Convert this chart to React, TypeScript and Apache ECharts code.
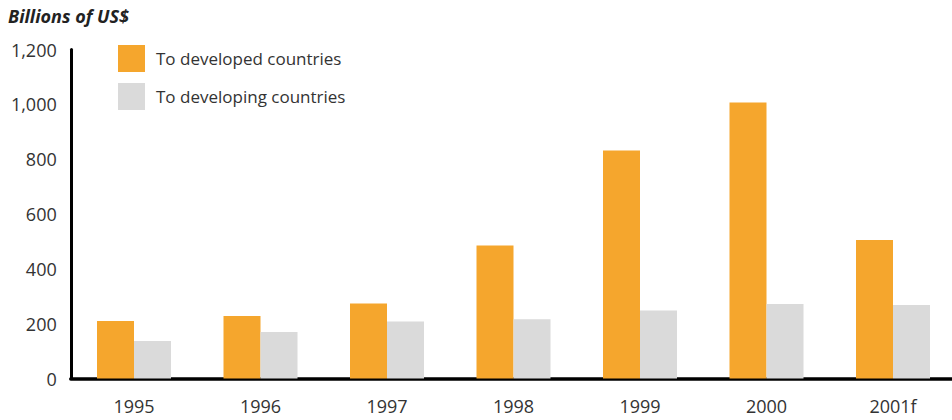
import React, { useEffect, useRef } from "react";
import * as echarts from "echarts";

const categories = ["1995", "1996", "1997", "1998", "1999", "2000", "2001f"];
const developed = [210, 228, 274, 485, 832, 1007, 505];
const developing = [137, 170, 208, 216, 248, 272, 268];
const yTicks = [0, 200, 400, 600, 800, 1000, 1200];

const FONT = "'Open Sans', 'Noto Sans', sans-serif";

export default function App() {
  const ref = useRef<HTMLDivElement>(null);
  useEffect(() => {
    if (!ref.current) return;
    const chart = echarts.init(ref.current, undefined, { renderer: "svg" });
    chart.setOption({
      animation: false,
      backgroundColor: "#ffffff",
      textStyle: { fontFamily: FONT },
      title: {
        text: "Billions of US$",
        left: 3,
        top: 2,
        textStyle: { fontSize: 18, fontWeight: "bold", fontStyle: "italic", color: "#222", fontFamily: FONT },
      },
      legend: {
        orient: "vertical",
        left: 113,
        top: 40,
        itemWidth: 27,
        itemHeight: 27,
        itemGap: 11,
        icon: "rect",
        textStyle: { fontSize: 17, color: "#333", padding: [0, 0, 0, 6], fontFamily: FONT },
        data: ["To developed countries", "To developing countries"],
      },
      grid: { left: 70.75, top: 49.5, bottom: 41.5, width: 885.5, containLabel: false },
      xAxis: {
        type: "category",
        data: categories,
        axisLine: { lineStyle: { color: "#000", width: 3.5 } },
        axisTick: { show: false },
        axisLabel: { fontSize: 18, color: "#333", margin: 18, fontFamily: FONT },
      },
      yAxis: {
        type: "value",
        min: yTicks[0],
        max: yTicks[yTicks.length - 1],
        interval: 200,
        axisLine: { show: true, lineStyle: { color: "#000", width: 3 } },
        axisTick: { show: false },
        splitLine: { show: false },
        axisLabel: {
          fontSize: 18,
          color: "#333",
          margin: 14,
          fontFamily: FONT,
          formatter: (v: number) => v.toLocaleString("en-US"),
        },
      },
      series: [
        {
          name: "To developed countries",
          type: "bar",
          data: developed,
          barWidth: 37,
          barGap: "0%",
          itemStyle: { color: "#F5A62D" },
        },
        {
          name: "To developing countries",
          type: "bar",
          data: developing,
          barWidth: 37,
          barGap: "0%",
          itemStyle: { color: "#DADADA" },
        },
      ],
    });
    return () => chart.dispose();
  }, []);
  return (
    <div style={{ width: 952, height: 420, position: "absolute", left: 0, top: 0, overflow: "hidden", background: "#fff" }}>
      <div ref={ref} style={{ width: 962, height: 420 }} />
    </div>
  );
}
